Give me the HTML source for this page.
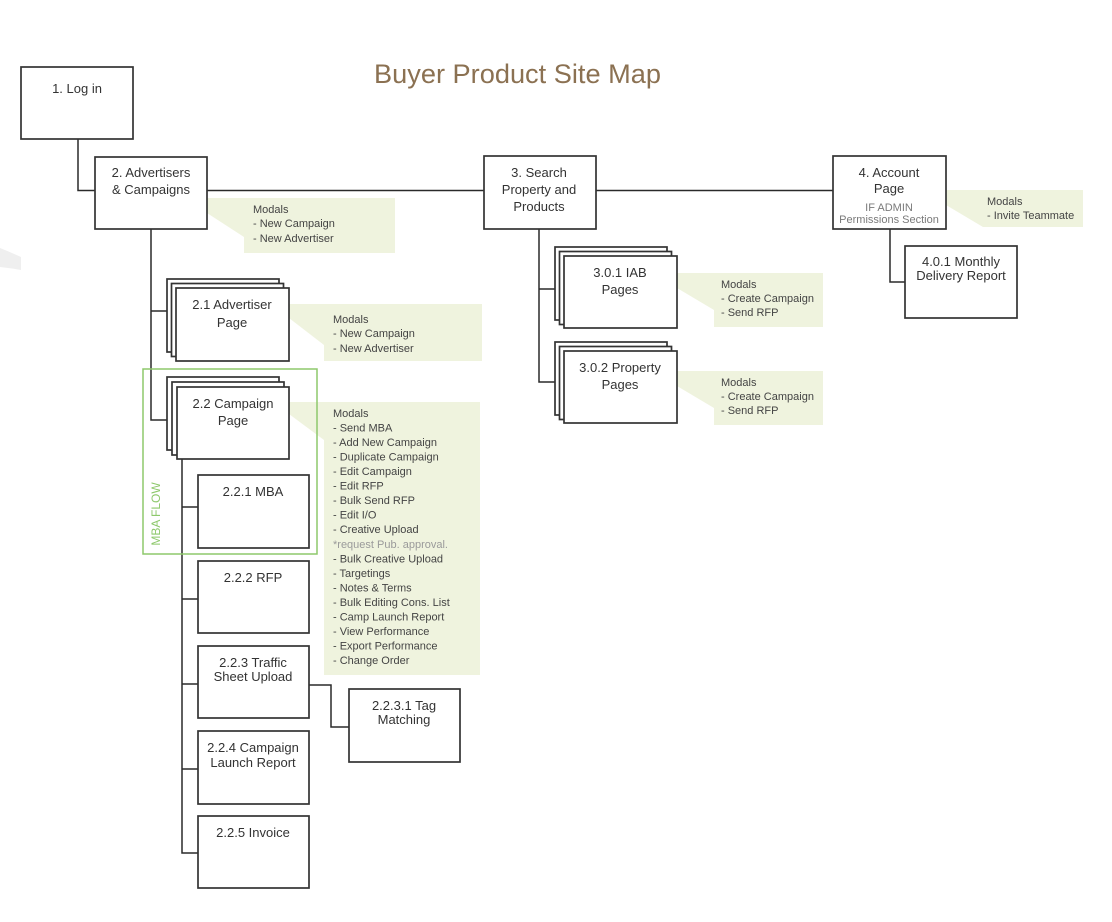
<!DOCTYPE html>
<html><head><meta charset="utf-8"><style>
html,body{margin:0;padding:0;background:#fff;}
svg{display:block;}
.b{fill:#fff;stroke:#333;stroke-width:1.7;}
.l{fill:none;stroke:#2a2a2a;stroke-width:1.5;}
.c{fill:#eff3de;}
.t{font-family:"Liberation Sans",sans-serif;font-size:13px;fill:#333;text-anchor:middle;}
.m{font-family:"Liberation Sans",sans-serif;font-size:11px;fill:#444;}
.s{font-family:"Liberation Sans",sans-serif;font-size:11px;fill:#7a7a7a;text-anchor:middle;}
</style></head><body>
<svg width="1112" height="922" viewBox="0 0 1112 922" xmlns="http://www.w3.org/2000/svg">
<path d="M0,248 Q10,252 21,257 L21,270 Q10,268 0,267 Z" fill="#efefef"/>
<text x="374" y="83" font-family="Liberation Sans, sans-serif" font-size="27" fill="#8b7152" textLength="287" lengthAdjust="spacingAndGlyphs">Buyer Product Site Map</text>

<!-- callouts -->
<polygon class="c" points="207,198 244,198 244,237 207,213"/>
<rect class="c" x="244" y="198" width="151" height="55"/>
<polygon class="c" points="289,304 324,304 324,345 289,318"/>
<rect class="c" x="324" y="304" width="158" height="57"/>
<polygon class="c" points="289,402 324,402 324,440 289,414"/>
<rect class="c" x="324" y="402" width="156" height="273"/>
<polygon class="c" points="677,273 714,273 714,310 677,288"/>
<rect class="c" x="714" y="273" width="109" height="54"/>
<polygon class="c" points="677,371 714,371 714,408 677,386"/>
<rect class="c" x="714" y="371" width="109" height="54"/>
<polygon class="c" points="946,190 983,190 983,227 946,205"/>
<rect class="c" x="983" y="190" width="100" height="37"/>

<!-- connectors -->
<path class="l" d="M78,139 V190.5 H95"/>
<path class="l" d="M207,190.5 H484"/>
<path class="l" d="M596,190.5 H833"/>
<path class="l" d="M151,229 V420 H167 M151,311 H167"/>
<path class="l" d="M182,459 V853 H198 M182,507 H198 M182,599 H198 M182,684 H198 M182,769 H198"/>
<path class="l" d="M309,685 H331 V727 H349"/>
<path class="l" d="M539,229 V382 H555 M539,289 H555"/>
<path class="l" d="M890,229 V282 H905"/>

<!-- main boxes -->
<rect class="b" x="21" y="67" width="112" height="72"/>
<text class="t" x="77" y="93">1. Log in</text>

<rect class="b" x="95" y="157" width="112" height="72"/>
<text class="t" x="151" y="177">2. Advertisers</text>
<text class="t" x="151" y="194">&amp; Campaigns</text>

<rect class="b" x="484" y="156" width="112" height="73"/>
<text class="t" x="539" y="177">3. Search</text>
<text class="t" x="539" y="194">Property and</text>
<text class="t" x="539" y="211">Products</text>

<rect class="b" x="833" y="156" width="113" height="73"/>
<text class="t" x="889" y="177">4. Account</text>
<text class="t" x="889" y="193">Page</text>
<text class="s" x="889" y="211">IF ADMIN</text>
<text class="s" x="889" y="223">Permissions Section</text>

<rect class="b" x="905" y="246" width="112" height="72"/>
<text class="t" x="961" y="266">4.0.1 Monthly</text>
<text class="t" x="961" y="280">Delivery Report</text>

<!-- 2.1 stack -->
<rect class="b" x="167" y="279" width="112" height="73"/>
<rect class="b" x="171.5" y="283.5" width="112" height="73"/>
<rect class="b" x="176" y="288" width="113" height="73"/>
<text class="t" x="232" y="309">2.1 Advertiser</text>
<text class="t" x="232" y="327">Page</text>

<!-- 2.2 stack -->
<rect class="b" x="167" y="377" width="112" height="73"/>
<rect class="b" x="172" y="382" width="112" height="73"/>
<rect class="b" x="177" y="387" width="112" height="72"/>
<text class="t" x="233" y="408">2.2 Campaign</text>
<text class="t" x="233" y="425">Page</text>

<rect class="b" x="198" y="475" width="111" height="73"/>
<text class="t" x="253" y="496">2.2.1 MBA</text>

<rect class="b" x="198" y="561" width="111" height="72"/>
<text class="t" x="253" y="582">2.2.2 RFP</text>

<rect class="b" x="198" y="646" width="111" height="72"/>
<text class="t" x="253" y="667">2.2.3 Traffic</text>
<text class="t" x="253" y="681">Sheet Upload</text>

<rect class="b" x="349" y="689" width="111" height="73"/>
<text class="t" x="404" y="710">2.2.3.1 Tag</text>
<text class="t" x="404" y="724">Matching</text>

<rect class="b" x="198" y="731" width="111" height="73"/>
<text class="t" x="253" y="752">2.2.4 Campaign</text>
<text class="t" x="253" y="767">Launch Report</text>

<rect class="b" x="198" y="816" width="111" height="72"/>
<text class="t" x="253" y="837">2.2.5 Invoice</text>

<!-- IAB stack -->
<rect class="b" x="555" y="247" width="112" height="73"/>
<rect class="b" x="559.5" y="251.5" width="112" height="73"/>
<rect class="b" x="564" y="256" width="113" height="72"/>
<text class="t" x="620" y="277">3.0.1 IAB</text>
<text class="t" x="620" y="294">Pages</text>

<!-- Property stack -->
<rect class="b" x="555" y="342" width="112" height="73"/>
<rect class="b" x="559.5" y="346.5" width="112" height="73"/>
<rect class="b" x="564" y="351" width="113" height="72"/>
<text class="t" x="620" y="372">3.0.2 Property</text>
<text class="t" x="620" y="389">Pages</text>

<!-- MBA flow frame -->
<rect x="143" y="369" width="174" height="185" fill="none" stroke="#8dc86b" stroke-width="1.5"/>
<text x="157" y="514" transform="rotate(-90 157 514)" font-family="Liberation Sans, sans-serif" font-size="12" fill="#8dc86b" text-anchor="middle" dominant-baseline="middle">MBA FLOW</text>

<!-- callout texts -->
<g class="m">
<text x="253" y="213">Modals</text>
<text x="253" y="227">- New Campaign</text>
<text x="253" y="242">- New Advertiser</text>

<text x="333" y="323">Modals</text>
<text x="333" y="337">- New Campaign</text>
<text x="333" y="352">- New Advertiser</text>

<text x="333" y="417">Modals</text>
<text x="333" y="431.5">- Send MBA</text>
<text x="333" y="446">- Add New Campaign</text>
<text x="333" y="460.6">- Duplicate Campaign</text>
<text x="333" y="475.1">- Edit Campaign</text>
<text x="333" y="489.6">- Edit RFP</text>
<text x="333" y="504.2">- Bulk Send RFP</text>
<text x="333" y="518.7">- Edit I/O</text>
<text x="333" y="533.2">- Creative Upload</text>
<text x="333" y="547.8" fill="#9a9a9a">*request Pub. approval.</text>
<text x="333" y="562.3">- Bulk Creative Upload</text>
<text x="333" y="576.8">- Targetings</text>
<text x="333" y="591.4">- Notes &amp; Terms</text>
<text x="333" y="605.9">- Bulk Editing Cons. List</text>
<text x="333" y="620.4">- Camp Launch Report</text>
<text x="333" y="635">- View Performance</text>
<text x="333" y="649.5">- Export Performance</text>
<text x="333" y="664">- Change Order</text>

<text x="721" y="288">Modals</text>
<text x="721" y="302">- Create Campaign</text>
<text x="721" y="316">- Send RFP</text>

<text x="721" y="386">Modals</text>
<text x="721" y="400">- Create Campaign</text>
<text x="721" y="414">- Send RFP</text>

<text x="987" y="205">Modals</text>
<text x="987" y="219">- Invite Teammate</text>
</g>
</svg>
</body></html>
